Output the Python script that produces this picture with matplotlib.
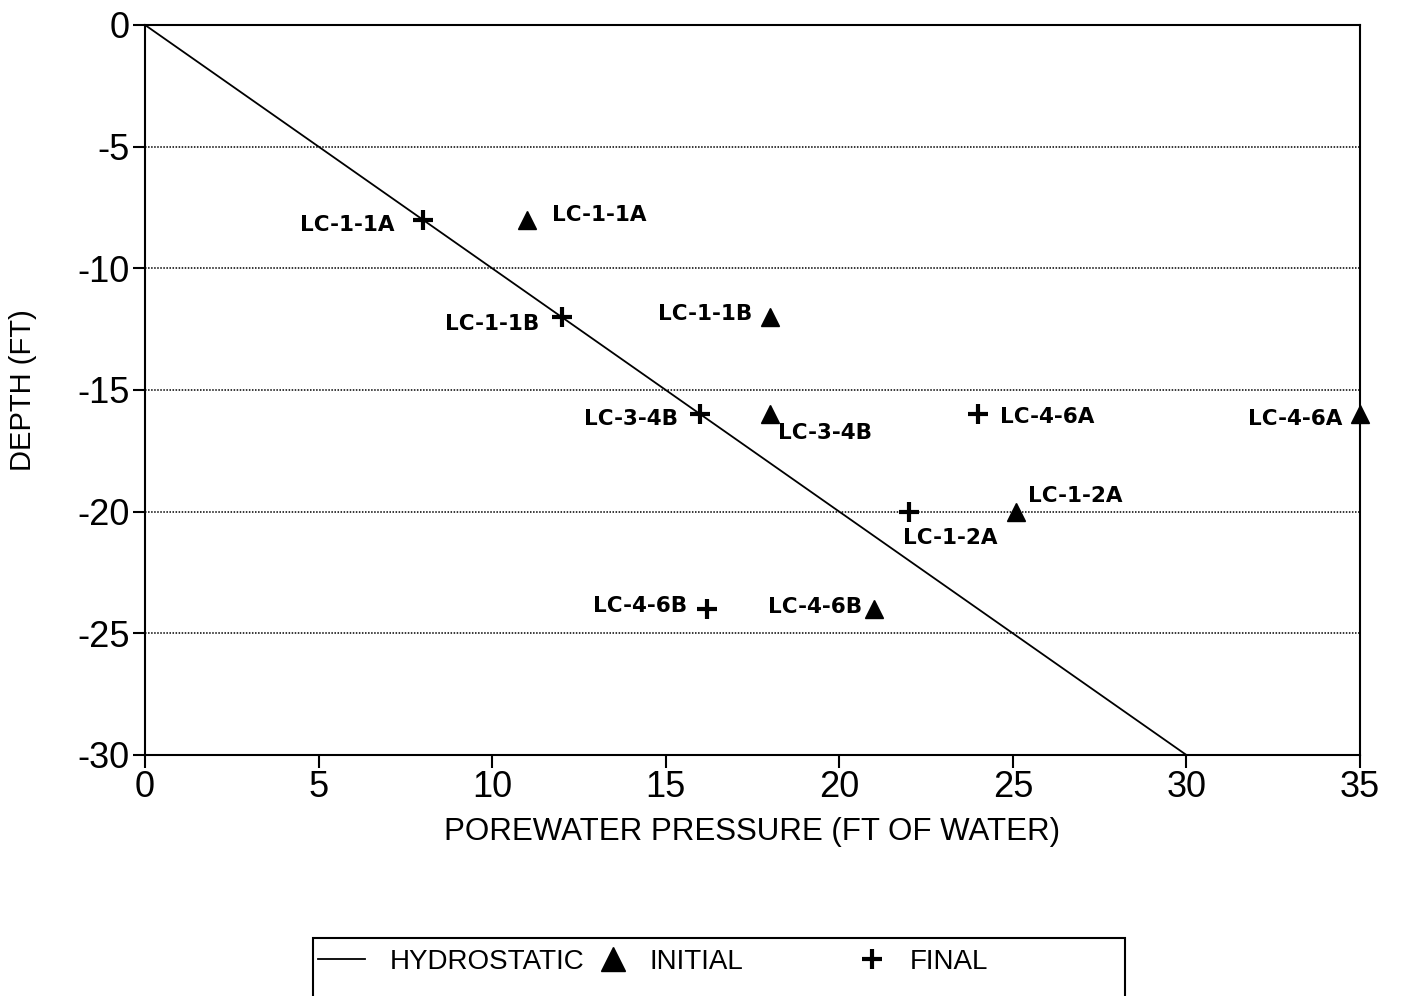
import matplotlib
matplotlib.use('Agg')
import matplotlib.pyplot as plt
from matplotlib.patches import Rectangle

plt.rcParams['font.family'] = ['Liberation Sans', 'DejaVu Sans']
plt.rcParams['axes.unicode_minus'] = False

# hydrostatic line (porewater pressure = depth)
hydro_x = [0, 30]
hydro_y = [0, -30]

# initial readings (triangles)
init_names = ['LC-1-1A', 'LC-1-1B', 'LC-3-4B', 'LC-4-6A', 'LC-1-2A', 'LC-4-6B']
init_x = [11, 18, 18, 35, 25.1, 21]
init_y = [-8, -12, -16, -16, -20, -24]

# final readings (plus signs)
final_names = ['LC-1-1A', 'LC-1-1B', 'LC-3-4B', 'LC-4-6A', 'LC-1-2A', 'LC-4-6B']
final_x = [8, 12, 16, 24, 22, 16.2]
final_y = [-8, -12, -16, -16, -20, -24]

xticks = [0, 5, 10, 15, 20, 25, 30, 35]
yticks = [0, -5, -10, -15, -20, -25, -30]

# label offsets in pixels (dx, dy, ha, va)
init_off = [(25, 5, 'left', 'center'), (-18, 3, 'right', 'center'),
            (8, -19, 'left', 'center'), (-18, -5, 'right', 'center'),
            (12, 16, 'left', 'center'), (-12, 2, 'right', 'center')]
final_off = [(-28, -5, 'right', 'center'), (-22, -7, 'right', 'center'),
             (-22, -5, 'right', 'center'), (22, -3, 'left', 'center'),
             (-6, -26, 'left', 'center'), (-20, 3, 'right', 'center')]

fig = plt.figure(figsize=(14.03, 9.96), dpi=100)
ax = fig.add_axes([0.1034, 0.2420, 0.8659, 0.7329])

hl, = ax.plot(hydro_x, hydro_y, color='black', lw=1.3, label='HYDROSTATIC')
il, = ax.plot(init_x, init_y, ls='none', marker='^', ms=13, color='black',
              label='INITIAL', clip_on=False, zorder=4)
fl, = ax.plot(final_x, final_y, ls='none', marker='+', ms=14, mew=3,
              color='black', label='FINAL', clip_on=False, zorder=4)

for n, x, y, (dx, dy, ha, va) in zip(init_names, init_x, init_y, init_off):
    ax.annotate(n, (x, y), xytext=(dx, dy), textcoords='offset pixels',
                ha=ha, va=va, fontsize=15.5, fontweight='bold',
                family='DejaVu Sans')
for n, x, y, (dx, dy, ha, va) in zip(final_names, final_x, final_y, final_off):
    ax.annotate(n, (x, y), xytext=(dx, dy), textcoords='offset pixels',
                ha=ha, va=va, fontsize=15.5, fontweight='bold',
                family='DejaVu Sans')

ax.set_xlim(0, 35)
ax.set_ylim(-30, 0)
ax.set_xticks(xticks)
ax.set_yticks(yticks)
ax.tick_params(axis='both', direction='out', length=9, width=1.5,
               labelsize=26, pad=2)
for s in ax.spines.values():
    s.set_linewidth(1.5)
ax.yaxis.grid(True, linestyle=(0, (1, 1)), color='black', lw=1.1)
ax.set_axisbelow(True)

ax.set_xlabel('POREWATER PRESSURE (FT OF WATER)', fontsize=22.5)
ax.set_ylabel('DEPTH (FT)', fontsize=21)
ax.xaxis.set_label_coords(0.5, -0.085)
ax.yaxis.set_label_coords(-0.089, 0.5)

# legend box, partly cut by the bottom of the page
fig.patches.append(Rectangle((313 / 1403, -0.05), 812 / 1403, 0.05 + 58 / 996,
                             transform=fig.transFigure, fill=False,
                             ec='black', lw=1.5))
leg_pos = [(304, hl, 0.9, 1.0), (575, il, 0.5, 1.35), (835, fl, 0.5, 1.0)]
for px, h, tp, ms in leg_pos:
    fig.legend(handles=[h], loc='center left', frameon=False,
               bbox_to_anchor=(px / 1403, 1 - 962 / 996), fontsize=20,
               handlelength=1.7, handletextpad=tp, borderpad=0,
               markerscale=ms)

fig.savefig('out.png', dpi=100, facecolor='white')
